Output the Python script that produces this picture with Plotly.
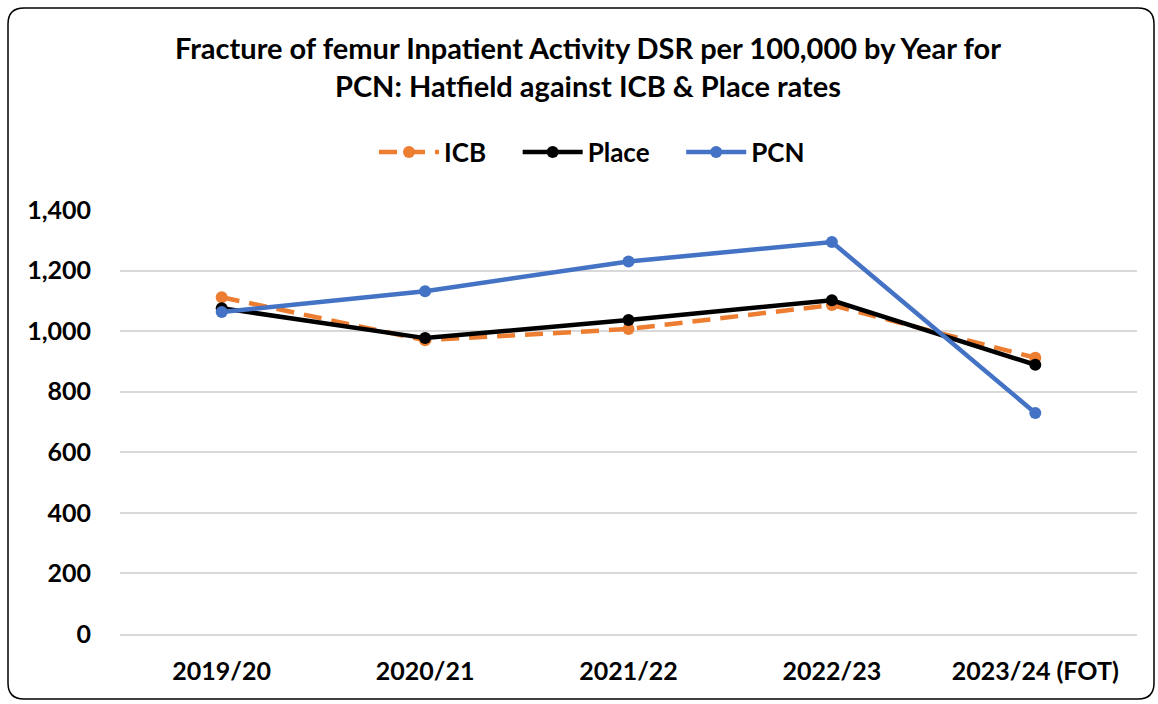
import plotly.graph_objects as go

years = ["2019/20", "2020/21", "2021/22", "2022/23", "2023/24 (FOT)"]
icb = [1112, 970, 1007, 1086, 912]
place = [1076, 977, 1037, 1102, 889]
pcn = [1063, 1132, 1230, 1294, 730]

series = [
    ("ICB", icb, "#ED7D31", "18px,10px", "&nbsp;&nbsp;&nbsp;&nbsp;"),
    ("Place", place, "#000000", "solid", "&nbsp;&nbsp;&nbsp;&nbsp;"),
    ("PCN", pcn, "#4472C4", "solid", ""),
]

fig = go.Figure()
for name, vals, color, dash, pad in series:
    fig.add_trace(go.Scatter(
        x=years, y=vals, name=f"<b>{name}</b>{pad}", mode="lines+markers",
        line=dict(color=color, width=4.5, dash=dash),
        marker=dict(color=color, size=12),
    ))

font_family = "Lato, 'Open Sans', sans-serif"

W, H = 1158, 704
L, R, T, B = 120, 21, 210, 70
pw, ph = W - L - R, H - T - B

def px(x):
    return (x - L) / pw

def py(y):
    return (H - B - y) / ph

x0, x1, y0, y1 = px(8), px(1154), py(699), py(8)
rx, ry = 16 / pw, 16 / ph
path = (f"M {x0+rx},{y1} L {x1-rx},{y1} Q {x1},{y1} {x1},{y1-ry} "
        f"L {x1},{y0+ry} Q {x1},{y0} {x1-rx},{y0} "
        f"L {x0+rx},{y0} Q {x0},{y0} {x0},{y0+ry} "
        f"L {x0},{y1-ry} Q {x0},{y1} {x0+rx},{y1} Z")

fig.update_layout(
    width=W, height=H,
    margin=dict(l=L, r=R, t=T, b=B),
    paper_bgcolor="white", plot_bgcolor="white",
    font=dict(family=font_family, color="#000000"),
    title=dict(
        text="<b>Fracture of femur Inpatient Activity DSR per 100,000 by Year for<br>PCN: Hatfield against ICB & Place rates</b>",
        x=px(588), xref="paper", xanchor="center",
        y=1 - 59 / H, yanchor="top",
        font=dict(size=29, family=font_family, color="#000000"),
    ),
    legend=dict(
        orientation="h", x=px(592), xanchor="center", xref="paper",
        y=py(152), yanchor="middle",
        font=dict(size=26, family=font_family, color="#000000"),
        itemwidth=60, traceorder="normal",
    ),
    shapes=[dict(type="path", path=path, xref="paper", yref="paper",
                 line=dict(color="#000000", width=1.5), fillcolor="rgba(0,0,0,0)", layer="below")],
)

fig.update_xaxes(
    range=[-0.5, 4.5],
    showgrid=False, showline=True, linecolor="#d9d9d9", linewidth=1.5,
    tickfont=dict(size=25, family=font_family, color="#000000"),
    ticks="", ticklabelstandoff=14,
    tickprefix="<b>", ticksuffix="</b>",
)
fig.update_yaxes(
    range=[0, 1400], dtick=200, tickformat=",",
    showgrid=True, gridcolor="#d9d9d9", gridwidth=1.5,
    zeroline=False, showline=False,
    tickfont=dict(size=25, family=font_family, color="#000000"),
    ticklabelstandoff=28,
    tickprefix="<b>", ticksuffix="</b>",
)

fig.write_html("out.html", post_script="document.body.style.margin='0';",
               config={"displayModeBar": False})
